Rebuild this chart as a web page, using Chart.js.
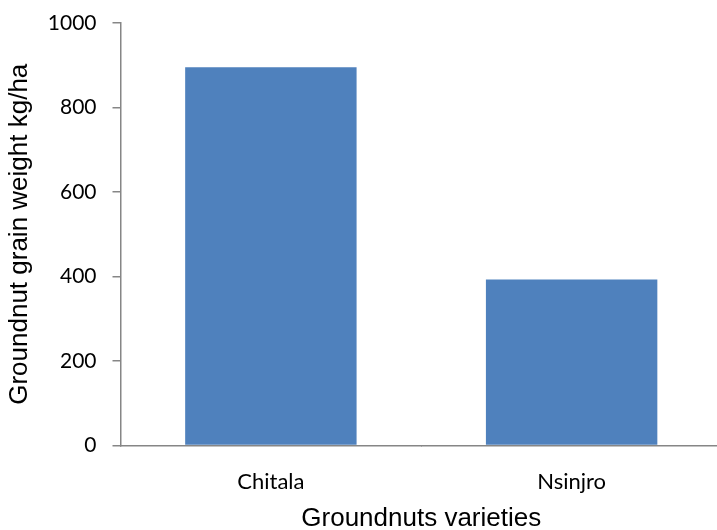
<!DOCTYPE html>
<html>
<head>
<meta charset="utf-8">
<script src="https://cdn.jsdelivr.net/npm/chart.js@4/dist/chart.umd.min.js"></script>
<style>
  html, body { margin: 0; padding: 0; background: #fff; overflow: hidden; }
  #wrap { position: relative; width: 722px; height: 530px; }
</style>
</head>
<body>
<div id="wrap"><canvas id="c" width="722" height="530"></canvas></div>
<script>
// Groundnut yield by variety
const categories = ['Chitala', 'Nsinjro'];
const grainWeight = [895, 393];
const yTicks = [0, 200, 400, 600, 800, 1000];

const axisGrey = '#868686';

// Axis title under the categories, centred on the plot area
const xTitlePlugin = {
  id: 'xTitle',
  afterDraw(chart) {
    const { ctx, chartArea } = chart;
    ctx.save();
    ctx.font = '26px "Liberation Sans", Arial, sans-serif';
    ctx.fillStyle = '#000';
    ctx.textAlign = 'center';
    ctx.textBaseline = 'alphabetic';
    ctx.fillText('Groundnuts varieties', (chartArea.left + chartArea.right) / 2, 526);
    ctx.restore();
  }
};

new Chart(document.getElementById('c'), {
  type: 'bar',
  data: {
    labels: categories,
    datasets: [{
      data: grainWeight,
      backgroundColor: '#4F81BD',
      borderWidth: 0,
      barPercentage: 0.57,
      categoryPercentage: 1
    }]
  },
  options: {
    responsive: false,
    animation: false,
    layout: { padding: { top: 23, right: 0, left: 0, bottom: 0 } },
    plugins: { legend: { display: false }, tooltip: { enabled: false } },
    scales: {
      x: {
        afterFit(scale) { scale.height = 84.5; scale.paddingLeft = 0; scale.paddingRight = 0; },
        grid: { display: true, drawOnChartArea: false, tickLength: 0, color: axisGrey },
        border: { color: axisGrey, width: 1.5 },
        ticks: {
          padding: 23,
          color: '#000',
          font: { family: 'Lato, "Open Sans", sans-serif', size: 22 }
        }
      },
      y: {
        min: 0,
        max: 1000,
        afterFit(scale) { scale.width = 120.5; scale.paddingTop = 0; scale.paddingBottom = 0; },
        afterBuildTicks(scale) { scale.ticks = yTicks.map(v => ({ value: v })); },
        grid: { display: true, drawOnChartArea: false, tickLength: 8, color: axisGrey, lineWidth: 1.5 },
        border: { color: axisGrey, width: 1.5 },
        ticks: {
          padding: 16,
          color: '#000',
          callback: v => String(v),
          font: { family: 'Lato, "Open Sans", sans-serif', size: 21 }
        },
        title: {
          display: true,
          text: 'Groundnut grain weight kg/ha',
          color: '#000',
          padding: { top: 4, bottom: 0 },
          font: { family: '"Liberation Sans", Arial, sans-serif', size: 26 }
        }
      }
    }
  },
  plugins: [xTitlePlugin]
});
</script>
</body>
</html>
